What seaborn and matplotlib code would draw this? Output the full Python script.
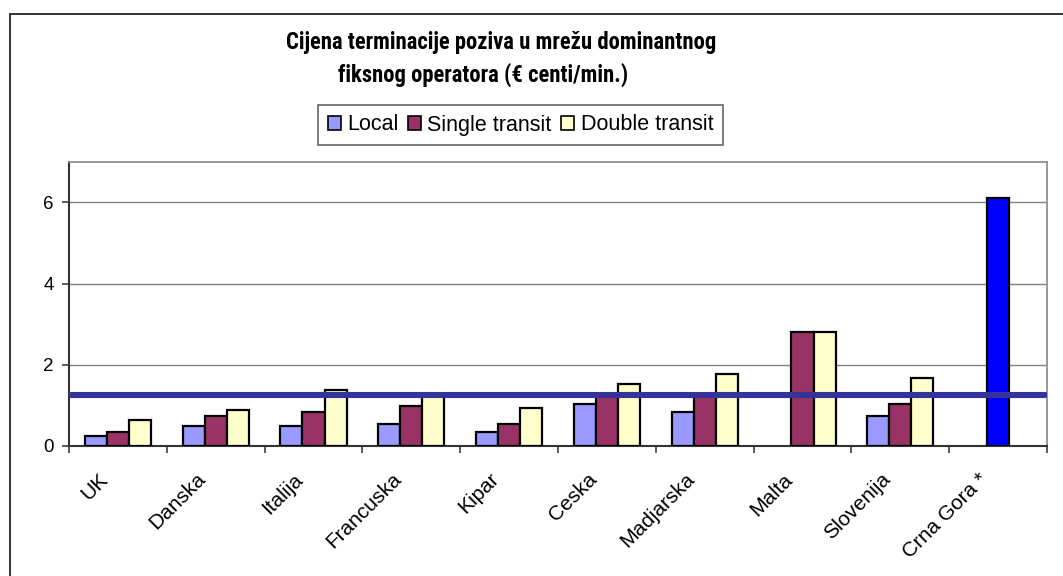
import numpy as np
import pandas as pd
import matplotlib
matplotlib.use("Agg")
import matplotlib.pyplot as plt
import seaborn as sns
from matplotlib.lines import Line2D
from matplotlib.transforms import ScaledTranslation

# ==========================================
# 1. DATOS
# ==========================================

zemlje = ["UK", "Danska", "Italija", "Francuska", "Kipar", "Ceska",
          "Madjarska", "Malta", "Slovenija", "Crna Gora *"]
serije = ["Local", "Single transit", "Double transit"]

local = [0.25, 0.49, 0.49, 0.54, 0.34, 1.03, 0.84, np.nan, 0.74, np.nan]
single_transit = [0.34, 0.74, 0.84, 0.98, 0.54, 1.25, 1.25, 2.80, 1.04, 6.10]
double_transit = [0.64, 0.89, 1.38, 1.22, 0.94, 1.53, 1.78, 2.80, 1.68, np.nan]

prosjek = 1.25  # horizontalna linija (prosjek)

y_ticks = [0, 2, 4, 6]

naslov_1 = "Cijena terminacije poziva u mrežu dominantnog"
naslov_2 = "fiksnog operatora (€ centi/min.)"

# tabela u dugom formatu za seaborn
df = pd.DataFrame({
    "Zemlja": zemlje * 3,
    "Serija": [s for s in serije for _ in zemlje],
    "Cijena": local + single_transit + double_transit,
})

# ==========================================
# 2. GRAFIK
# ==========================================

sns.set_style("white")
plt.rcParams["font.family"] = ["Liberation Sans", "DejaVu Sans"]
plt.rcParams["text.color"] = "black"
plt.rcParams["xtick.color"] = "black"
plt.rcParams["ytick.color"] = "black"

fig = plt.figure(figsize=(10.63, 5.76), dpi=100)
ax = fig.add_axes([69 / 1063, 1 - 446 / 576, (1047 - 69) / 1063, (446 - 161.7) / 576])

paleta = {"Local": "#9999FF", "Single transit": "#993366", "Double transit": "#FFFFCC"}

sns.barplot(data=df, x="Zemlja", y="Cijena", hue="Serija", order=zemlje,
            hue_order=serije, palette=paleta, width=0.675, gap=0,
            errorbar=None, edgecolor="black", linewidth=1.6, saturation=1,
            ax=ax, zorder=3)

# Crna Gora - stubac u plavoj boji
idx_cg = zemlje.index("Crna Gora *")
for bar in ax.containers[1]:
    if round(bar.get_x() + bar.get_width() / 2) == idx_cg:
        bar.set_facecolor("#0000FF")

# prosjek
ax.axhline(prosjek, xmin=0.001, xmax=0.998, color="#333399", linewidth=4.4, zorder=5)

# osa Y
ax.set_ylim(0, 7)
ax.set_yticks(y_ticks)
ax.set_yticklabels([str(t) for t in y_ticks], fontsize=13.5)
ax.yaxis.grid(True, color="#808080", linewidth=1.0, zorder=0)
ax.set_axisbelow(True)
ax.tick_params(axis="y", direction="out", length=5, width=1.2, color="#404040",
               left=True, pad=6)

# osa X - oznake rotirane, crtice izmedju kategorija
ax.set_xlim(-0.5, len(zemlje) - 0.5)
ax.set_xticks(range(len(zemlje)))
ax.set_xticklabels(zemlje, rotation=45, ha="right", va="top",
                   rotation_mode="anchor", fontsize=15)
ax.tick_params(axis="x", length=0, pad=12)
pomak = ScaledTranslation(-20 / 100, -7 / 100, fig.dpi_scale_trans)
for lbl in ax.get_xticklabels():
    lbl.set_transform(lbl.get_transform() + pomak)
ax.set_xticks(np.arange(-0.5, len(zemlje)), minor=True)
ax.tick_params(axis="x", which="minor", direction="out", length=5, width=1.2,
               color="#404040", bottom=True)

ax.set_xlabel("")
ax.set_ylabel("")

for s in ["left", "bottom"]:
    ax.spines[s].set_color("#333333")
    ax.spines[s].set_linewidth(1.5)
for s in ["top", "right"]:
    ax.spines[s].set_visible(True)
    ax.spines[s].set_color("#909090")
    ax.spines[s].set_linewidth(1.3)

# legenda iznad grafika
ax.legend_.remove()
handles = [plt.Rectangle((0, 0), 1, 1, facecolor=paleta[s], edgecolor="black",
                         linewidth=1.2) for s in serije]
leg = fig.legend(handles, serije, loc="center", bbox_to_anchor=(520.5 / 1063, 1 - 125 / 576),
                 ncol=3, fontsize=15.5, frameon=True, fancybox=False,
                 handlelength=0.6, handleheight=0.6, handletextpad=0.3,
                 columnspacing=0.45, borderpad=0.45, borderaxespad=0)
leg.get_frame().set_edgecolor("#404040")
leg.get_frame().set_linewidth(1.2)

# naslov
naslov_font = ["Roboto Condensed", "Liberation Sans Narrow", "DejaVu Sans Condensed",
               "Roboto", "DejaVu Sans"]
fig.text(501 / 1063, 1 - 43 / 576, naslov_1, ha="center", va="center",
         fontsize=16.3, fontweight="bold", family=naslov_font)
fig.text(483 / 1063, 1 - 75 / 576, naslov_2, ha="center", va="center",
         fontsize=16.3, fontweight="bold", family=naslov_font)

# okvir grafika (vidljiv samo lijevo i gore)
fig.add_artist(Line2D([9.5 / 1063, 9.5 / 1063], [0, 1 - 14 / 576],
                      color="#333333", linewidth=1.4, transform=fig.transFigure))
fig.add_artist(Line2D([9.5 / 1063, 1], [1 - 14 / 576, 1 - 14 / 576],
                      color="#333333", linewidth=1.4, transform=fig.transFigure))

plt.savefig("out.png", dpi=100)
plt.close()
